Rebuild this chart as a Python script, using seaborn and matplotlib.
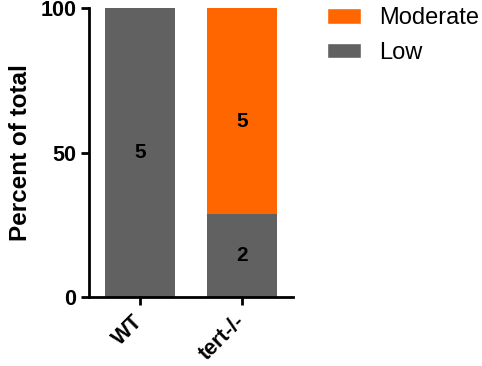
import pandas as pd
import seaborn as sns
import matplotlib.pyplot as plt
from matplotlib.patches import Patch

groups = ["WT", "tert-/-"]
low_counts = [5, 2]
moderate_counts = [0, 5]

totals = [l + m for l, m in zip(low_counts, moderate_counts)]
low_pct = [100 * l / t for l, t in zip(low_counts, totals)]
all_pct = [100 * (l + m) / t for l, m, t in zip(low_counts, moderate_counts, totals)]

df = pd.DataFrame({"Group": groups, "Low": low_pct, "All": all_pct})

sns.set_style("ticks")
plt.rcParams["font.family"] = ["Liberation Sans", "DejaVu Sans"]
plt.rcParams["text.color"] = "black"
plt.rcParams["axes.labelcolor"] = "black"
plt.rcParams["xtick.color"] = "black"
plt.rcParams["ytick.color"] = "black"

grey = "#616161"
orange = "#ff6600"

fig = plt.figure(figsize=(4.82, 3.66), dpi=100)
ax = fig.add_axes([0.1846, 0.1885, 0.4232, 0.7895])

sns.barplot(data=df, x="Group", y="All", color=orange, saturation=1, width=0.68,
            linewidth=0, ax=ax)
sns.barplot(data=df, x="Group", y="Low", color=grey, saturation=1, width=0.68,
            linewidth=0, ax=ax)

# counts inside the segments
for i in range(len(groups)):
    if low_counts[i] > 0:
        ax.text(i, low_pct[i] / 2, str(low_counts[i]), ha="center", va="center",
                fontsize=15, fontweight="bold", color="black")
    if moderate_counts[i] > 0:
        ax.text(i, low_pct[i] + (all_pct[i] - low_pct[i]) * 0.45, str(moderate_counts[i]),
                ha="center", va="center", fontsize=15, fontweight="bold", color="black")

ax.set_xlim(-0.5, 1.5)
ax.set_ylim(0, 100)
ax.set_yticks([0, 50, 100])
ax.set_xlabel("")
ax.set_ylabel("Percent of total", fontsize=17.5, fontweight="bold", labelpad=6)

for s in ["top", "right"]:
    ax.spines[s].set_visible(False)
for s in ["left", "bottom"]:
    ax.spines[s].set_linewidth(2)
    ax.spines[s].set_color("black")
ax.tick_params(axis="both", width=2, length=5.5, color="black", labelcolor="black",
               labelsize=15.5)
ax.tick_params(axis="x", pad=10)
for lab in ax.get_yticklabels():
    lab.set_fontweight("bold")
for lab in ax.get_xticklabels():
    lab.set_fontweight("bold")
    lab.set_rotation(45)
    lab.set_ha("right")
    lab.set_va("center")
    lab.set_rotation_mode("anchor")

handles = [Patch(facecolor=orange, label="Moderate"), Patch(facecolor=grey, label="Low")]
fig.legend(handles=handles, loc="upper left", bbox_to_anchor=(327 / 482, 1 - 7 / 366),
           frameon=False, borderpad=0, borderaxespad=0, labelcolor="black",
           fontsize=17, handlelength=1.44, handleheight=0.64, handletextpad=0.75,
           labelspacing=0.55)

fig.savefig("out.png", dpi=100)
